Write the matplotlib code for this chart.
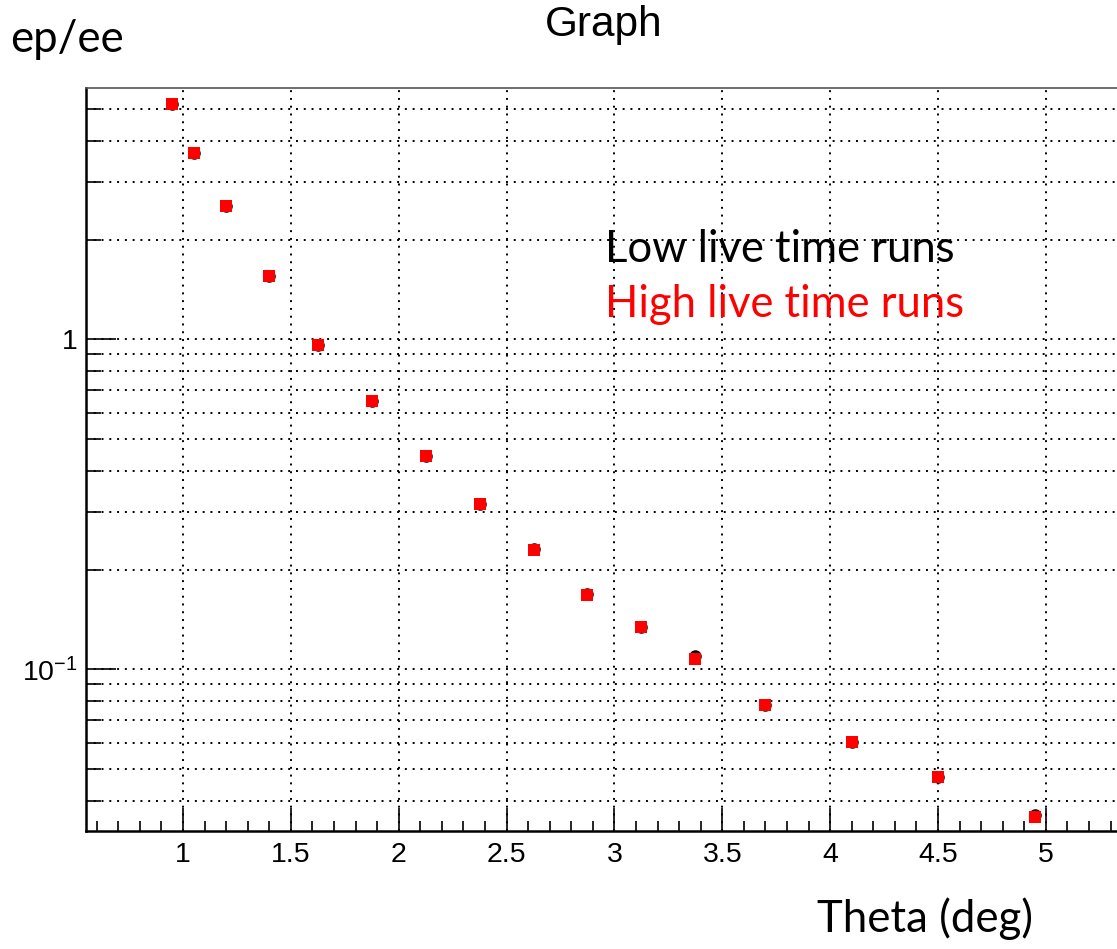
import matplotlib
matplotlib.use("Agg")
import matplotlib.pyplot as plt
from matplotlib.ticker import FixedLocator, NullFormatter, FixedFormatter

# Data
theta = [0.95, 1.05, 1.2, 1.4, 1.625, 1.875, 2.125, 2.375, 2.625, 2.875,
         3.125, 3.375, 3.7, 4.1, 4.5, 4.95]
ratio_low = [5.18, 3.66, 2.535, 1.558, 0.963, 0.6486, 0.4439, 0.3169, 0.232, 0.169,
             0.1346, 0.110, 0.0779, 0.0603, 0.0471, 0.0362]
ratio_high = [5.18, 3.66, 2.535, 1.558, 0.963, 0.6486, 0.4439, 0.3169, 0.2304, 0.1676,
              0.1346, 0.1076, 0.0779, 0.0603, 0.0471, 0.03575]

x_major = [1, 1.5, 2, 2.5, 3, 3.5, 4, 4.5, 5]
x_major_labels = ["1", "1.5", "2", "2.5", "3", "3.5", "4", "4.5", "5"]
y_major = [0.1, 1]
y_major_labels = ["$10^{-1}$", "1"]
y_minor = [0.04, 0.05, 0.06, 0.07, 0.08, 0.09, 0.2, 0.3, 0.4, 0.5, 0.6, 0.7,
           0.8, 0.9, 2, 3, 4, 5]

plt.rcParams['mathtext.fontset'] = 'custom'
plt.rcParams['mathtext.rm'] = 'Liberation Sans'
plt.rcParams['mathtext.it'] = 'Liberation Sans'
plt.rcParams['mathtext.bf'] = 'Liberation Sans'

W, H = 1117, 949
fig = plt.figure(figsize=(W / 100, H / 100), dpi=100)
left, right, top, bottom = 86, 1125, 88, 831
ax = fig.add_axes([left / W, 1 - bottom / H, (right - left) / W, (bottom - top) / H])

ax.set_yscale('log')
ax.set_xlim(0.5503, 5.367)
ax.set_ylim(0.03236, 5.775)

ax.plot(theta, ratio_low, linestyle='none', marker='o', ms=8, color='black', zorder=3)
ax.plot(theta, ratio_high, linestyle='none', marker='s', ms=8, color='red',
        markeredgewidth=0, zorder=4)

# ticks
ax.xaxis.set_major_locator(FixedLocator(x_major))
ax.xaxis.set_major_formatter(FixedFormatter(x_major_labels))
x_minor = [round(0.6 + 0.1 * i, 2) for i in range(48)]
x_minor = [v for v in x_minor if v not in x_major]
ax.xaxis.set_minor_locator(FixedLocator(x_minor))
ax.yaxis.set_major_locator(FixedLocator(y_major))
ax.yaxis.set_major_formatter(FixedFormatter(y_major_labels))
ax.yaxis.set_minor_locator(FixedLocator(y_minor))
ax.yaxis.set_minor_formatter(NullFormatter())

ax.tick_params(axis='x', which='major', direction='in', length=16.5, width=1.2,
               labelsize=20.5, pad=8, top=False)
ax.tick_params(axis='x', which='minor', direction='in', length=7.2, width=1.2, top=False)
ax.tick_params(axis='y', which='major', direction='in', length=21.6, width=1.2,
               labelsize=20.5, pad=6, right=False)
ax.tick_params(axis='y', which='minor', direction='in', length=10.8, width=1.2, right=False)
for lab in ax.get_xticklabels() + ax.get_yticklabels():
    lab.set_fontfamily('Liberation Sans')

grid_ls = (0, (1.0, 3.0))
ax.grid(True, which='major', axis='x', color='black', linestyle=grid_ls, linewidth=1.4)
ax.grid(True, which='both', axis='y', color='black', linestyle=grid_ls, linewidth=1.4)
ax.set_axisbelow(True)

ax.spines['left'].set_linewidth(1.8)
ax.spines['bottom'].set_linewidth(1.8)
ax.spines['top'].set_linewidth(1.2)
ax.spines['top'].set_color('#555555')
ax.spines['right'].set_visible(False)

# texts
fig.text(604 / W, 1 - 36 / H, "Graph", ha='center', va='baseline', fontsize=30.5,
         family='Liberation Sans')
fig.text(10 / W, 1 - 52 / H, "ep/ee", ha='left', va='baseline', fontsize=31.5, family='Lato')
fig.text(1033 / W, 1 - 932 / H, "Theta (deg)", ha='right', va='baseline', fontsize=31.5,
         family='Lato')
fig.text(605 / W, 1 - 262 / H, "Low live time runs",
         ha='left', va='baseline', fontsize=31.4, family='Lato', color='black')
fig.text(605 / W, 1 - 317 / H, "High live time runs",
         ha='left', va='baseline', fontsize=31.4, family='Lato', color='red')

fig.savefig("out.png", dpi=100)
